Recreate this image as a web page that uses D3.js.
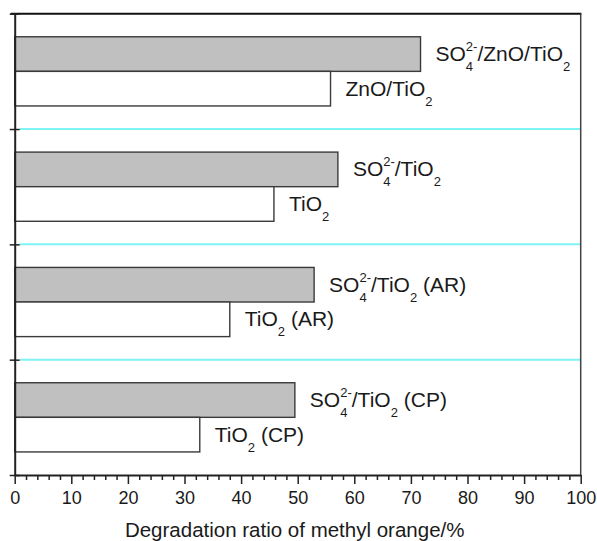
<!DOCTYPE html>
<html>
<head>
<meta charset="utf-8">
<script src="https://cdn.jsdelivr.net/npm/d3@7/dist/d3.min.js"></script>
<style>
  html, body { margin: 0; padding: 0; background: #fff; }
  svg { display: block; font-family: "Liberation Sans", Arial, Helvetica, sans-serif; }
</style>
</head>
<body>
<svg id="chart" width="597" height="541"></svg>
<script>
// Catalyst groups, top to bottom
const groups = ["ZnO/TiO2", "TiO2", "TiO2 (AR)", "TiO2 (CP)"];
// Degradation ratio (%) of the sulfated catalyst in each group
const sulfatedValues = [71.7, 57.1, 52.9, 49.5];
// Degradation ratio (%) of the untreated catalyst in each group
const plainValues = [55.8, 45.8, 38.0, 32.7];
// Bar labels (_{..} subscript, ^{..} superscript stacked over the preceding subscript)
const sulfatedLabels = ["SO_{4}^{2-}/ZnO/TiO_{2}", "SO_{4}^{2-}/TiO_{2}", "SO_{4}^{2-}/TiO_{2} (AR)", "SO_{4}^{2-}/TiO_{2} (CP)"];
const plainLabels = ["ZnO/TiO_{2}", "TiO_{2}", "TiO_{2} (AR)", "TiO_{2} (CP)"];
// Axis ticks
const xMajorTicks = [0, 10, 20, 30, 40, 50, 60, 70, 80, 90, 100];
const xMinorTicks = d3.range(0, 101, 2).filter(v => v % 10 !== 0);
const xTitle = "Degradation ratio of methyl orange/%";

const svg = d3.select("#chart");
const plot = { left: 14.7, right: 580.7, top: 13.7, bottom: 475 };

const x = d3.scaleLinear().domain([0, 100]).range([plot.left, plot.right]);
const yGroup = d3.scaleBand().domain(groups).range([plot.top, plot.bottom]).paddingInner(0).paddingOuter(0);
const yBar = d3.scaleBand().domain(["sulfated", "plain"]).range([0, yGroup.bandwidth()])
  .paddingInner(0).paddingOuter(0.667);
const yBound = d3.scaleLinear().domain([0, groups.length]).range([plot.top, plot.bottom]);

// Cyan separators between groups
svg.append("g").selectAll("line")
  .data(d3.range(1, groups.length))
  .join("line")
  .attr("x1", plot.left + 5).attr("x2", plot.right)
  .attr("y1", d => yBound(d)).attr("y2", d => yBound(d))
  .attr("stroke", "#7ff3f3").attr("stroke-width", 2);

// Bars
const rows = groups.map((g, i) => ({
  group: g,
  sulfated: sulfatedValues[i], plain: plainValues[i],
  sLabel: sulfatedLabels[i], pLabel: plainLabels[i]
}));
const barData = rows.flatMap(r => [
  { group: r.group, kind: "sulfated", value: r.sulfated, label: r.sLabel },
  { group: r.group, kind: "plain", value: r.plain, label: r.pLabel }
]);

svg.append("g").selectAll("rect")
  .data(barData)
  .join("rect")
  .attr("x", x(0))
  .attr("y", d => yGroup(d.group) + yBar(d.kind))
  .attr("width", d => x(d.value) - x(0))
  .attr("height", yBar.bandwidth())
  .attr("fill", d => d.kind === "sulfated" ? "#c0c0c0" : "#ffffff")
  .attr("stroke", "#3a3a3a")
  .attr("stroke-width", 1.4);

// Labels with chemical sub/superscripts
const mainSize = 21, scriptSize = 13, subShift = 10, supShift = -10;
function parseLabel(s) {
  const parts = [];
  const re = /_\{([^}]*)\}|\^\{([^}]*)\}/g;
  let last = 0, m;
  while ((m = re.exec(s)) !== null) {
    if (m.index > last) parts.push({ t: s.slice(last, m.index), k: "n" });
    if (m[1] !== undefined) parts.push({ t: m[1], k: "sub" });
    else parts.push({ t: m[2], k: "sup" });
    last = re.lastIndex;
  }
  if (last < s.length) parts.push({ t: s.slice(last), k: "n" });
  return parts;
}
function drawLabel(textSel, str) {
  const parts = parseLabel(str);
  let cur = 0, prevSub = null;
  parts.forEach(p => {
    const target = p.k === "sub" ? subShift : p.k === "sup" ? supShift : 0;
    const ts = textSel.append("tspan")
      .attr("font-size", p.k === "n" ? mainSize : scriptSize)
      .attr("dy", target - cur)
      .text(p.t);
    if (p.k === "sup" && prevSub) {
      ts.attr("dx", -prevSub.node().getComputedTextLength());
    }
    prevSub = p.k === "sub" ? ts : null;
    cur = target;
  });
}

const labelG = svg.append("g");
barData.forEach(d => {
  const t = labelG.append("text")
    .attr("x", x(d.value) + 15)
    .attr("y", yGroup(d.group) + yBar(d.kind) + yBar.bandwidth() / 2 + 7)
    .attr("fill", "#1a1a1a");
  drawLabel(t, d.label);
});

// Frame: top and right borders
svg.append("line").attr("x1", plot.left - 4).attr("x2", plot.right + 0.7)
  .attr("y1", plot.top).attr("y2", plot.top)
  .attr("stroke", "#111").attr("stroke-width", 2);
svg.append("line").attr("x1", plot.right).attr("x2", plot.right)
  .attr("y1", plot.top).attr("y2", plot.bottom)
  .attr("stroke", "#444").attr("stroke-width", 1.5);

// Left axis with crossing ticks at group boundaries
const yAxisG = svg.append("g")
  .attr("transform", `translate(${plot.left},0)`)
  .call(d3.axisLeft(yBound).tickValues(d3.range(0, groups.length + 1)).tickFormat("").tickSize(5).tickSizeOuter(0));
yAxisG.select(".domain").attr("stroke", "#222").attr("stroke-width", 2);
yAxisG.selectAll(".tick line").attr("x1", 5).attr("stroke", "#222").attr("stroke-width", 1.5);

// Bottom axis: minor then major ticks
const xMinorG = svg.append("g")
  .attr("transform", `translate(0,${plot.bottom})`)
  .call(d3.axisBottom(x).tickValues(xMinorTicks).tickFormat("").tickSize(5).tickSizeOuter(0));
xMinorG.select(".domain").remove();
xMinorG.selectAll(".tick line").attr("stroke", "#222").attr("stroke-width", 1.5);

const xAxisG = svg.append("g")
  .attr("transform", `translate(0,${plot.bottom})`)
  .call(d3.axisBottom(x).tickValues(xMajorTicks).tickFormat(d3.format("d")).tickSize(9).tickSizeOuter(0).tickPadding(7));
xAxisG.select(".domain").attr("stroke", "#222").attr("stroke-width", 2);
xAxisG.selectAll(".tick line").attr("stroke", "#222").attr("stroke-width", 1.5);
xAxisG.selectAll(".tick text")
  .attr("font-family", "\"Liberation Sans\", Arial, sans-serif")
  .attr("font-size", 18).attr("fill", "#1a1a1a");

// Axis title
svg.append("text")
  .attr("x", (plot.left + plot.right) / 2 - 3)
  .attr("y", 537)
  .attr("text-anchor", "middle")
  .attr("font-size", 20.5)
  .attr("fill", "#1a1a1a")
  .text(xTitle);
</script>
</body>
</html>
